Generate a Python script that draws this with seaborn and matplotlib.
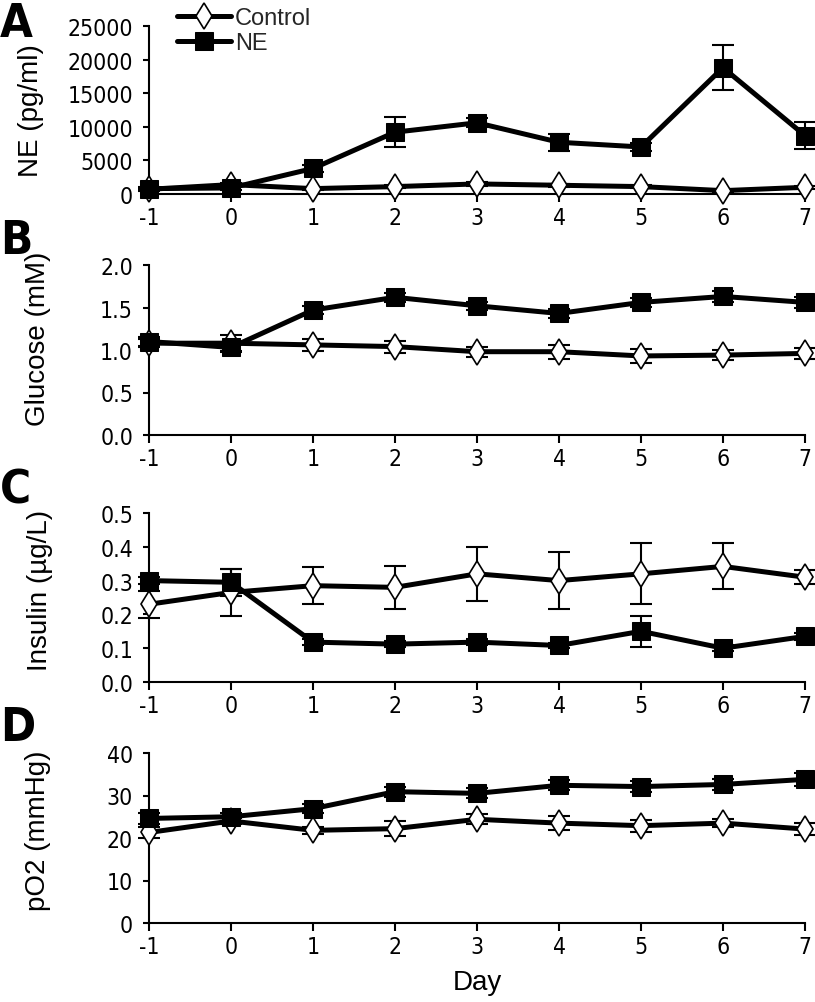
import matplotlib
matplotlib.use("Agg")
import matplotlib.pyplot as plt
import seaborn as sns
import numpy as np
import pandas as pd
from matplotlib import font_manager
from matplotlib.font_manager import FontProperties

days = [-1, 0, 1, 2, 3, 4, 5, 6, 7]

ne_ctrl = [700, 1400, 800, 1100, 1500, 1300, 1100, 500, 1000]
ne_ctrl_err = [150, 250, 150, 200, 250, 200, 200, 150, 200]
ne_ne = [800, 900, 3800, 9200, 10600, 7700, 7000, 18800, 8700]
ne_ne_err = [300, 300, 500, 2200, 700, 1300, 600, 3300, 2000]

glu_ctrl = [1.08, 1.08, 1.06, 1.04, 0.98, 0.98, 0.93, 0.94, 0.96]
glu_ctrl_err = [0.05, 0.10, 0.07, 0.07, 0.06, 0.08, 0.08, 0.06, 0.06]
glu_ne = [1.10, 1.03, 1.47, 1.62, 1.52, 1.43, 1.56, 1.63, 1.56]
glu_ne_err = [0.05, 0.04, 0.05, 0.05, 0.05, 0.05, 0.05, 0.06, 0.06]

ins_ctrl = [0.23, 0.265, 0.285, 0.28, 0.32, 0.30, 0.32, 0.342, 0.31]
ins_ctrl_err = [0.04, 0.07, 0.055, 0.063, 0.08, 0.085, 0.09, 0.068, 0.02]
ins_ne = [0.30, 0.295, 0.118, 0.112, 0.118, 0.108, 0.15, 0.10, 0.135]
ins_ne_err = [0.01, 0.04, 0.008, 0.008, 0.008, 0.008, 0.045, 0.008, 0.01]

po2_ctrl = [21.3, 24.0, 21.8, 22.2, 24.4, 23.5, 22.9, 23.5, 22.1]
po2_ctrl_err = [1.2, 0.8, 0.8, 1.8, 1.2, 1.6, 1.4, 1.0, 1.5]
po2_ne = [24.6, 25.0, 26.9, 30.9, 30.5, 32.4, 32.1, 32.6, 33.8]
po2_ne_err = [1.2, 1.0, 1.0, 1.2, 1.2, 1.2, 1.2, 1.2, 1.5]

ylabels = ["NE (pg/ml)", "Glucose (mM)", "Insulin (\u00b5g/L)", "pO2 (mmHg)"]
letters = ["A", "B", "C", "D"]
yticks_list = [
    [0, 5000, 10000, 15000, 20000, 25000],
    [0.0, 0.5, 1.0, 1.5, 2.0],
    [0.0, 0.1, 0.2, 0.3, 0.4, 0.5],
    [0, 10, 20, 30, 40],
]
ytick_fmt = ["{:.0f}", "{:.1f}", "{:.1f}", "{:.0f}"]

sns.set_theme(style="ticks")
plt.rcParams['font.family'] = ['Liberation Sans', 'DejaVu Sans']

files = [f.fname for f in font_manager.fontManager.ttflist]
def find(pats):
    for p in pats:
        for f in files:
            if p.lower() in f.lower():
                return f
    return None
reg_file = find(["LiberationSansNarrow-Regular", "DejaVuSansCondensed.ttf"])
bold_file = find(["LiberationSansNarrow-Bold.", "DejaVuSansCondensed-Bold.ttf"])
if reg_file:
    def tick_fp(size):
        return FontProperties(fname=reg_file, size=size)
    tsize = 18 if "Liberation" in reg_file else 16.5
else:
    def tick_fp(size):
        return FontProperties(family='Liberation Sans', size=size)
    tsize = 15
if bold_file:
    letter_fp = FontProperties(fname=bold_file, size=34)
else:
    letter_fp = FontProperties(family='Liberation Sans', weight='bold', size=30)

W, H = 815, 1003
fig = plt.figure(figsize=(W / 100, H / 100), dpi=100)

left_px, right_px = 149, 805
axes_px = [(27, 195), (266, 436), (514, 683), (754, 924)]
label_y = [0.5, 0.57, 0.55, 0.55]
label_x = [44, 51, 53, 51]
letter_top = [2, 219, 469, 706]

datasets = [
    (ne_ctrl, ne_ctrl_err, ne_ne, ne_ne_err),
    (glu_ctrl, glu_ctrl_err, glu_ne, glu_ne_err),
    (ins_ctrl, ins_ctrl_err, ins_ne, ins_ne_err),
    (po2_ctrl, po2_ctrl_err, po2_ne, po2_ne_err),
]

for i, (top, bot) in enumerate(axes_px):
    ax = fig.add_axes([left_px / W, 1 - bot / H, (right_px - left_px) / W, (bot - top) / H])
    c, ce, n, ne_ = datasets[i]
    df = pd.DataFrame({"Day": days * 2, "val": c + n,
                       "grp": ["Control"] * len(days) + ["NE"] * len(days)})
    ax.errorbar(days, c, yerr=ce, fmt='none', ecolor='black', elinewidth=1.5,
                capsize=8, capthick=1.5, zorder=2, clip_on=False)
    ax.errorbar(days, n, yerr=ne_, fmt='none', ecolor='black', elinewidth=1.5,
                capsize=8, capthick=1.5, zorder=2, clip_on=False)
    sns.lineplot(data=df[df.grp == "Control"], x="Day", y="val", ax=ax, color='black',
                 linewidth=3.6, marker='d', markersize=13, markerfacecolor='white',
                 markeredgecolor='black', markeredgewidth=1.2, clip_on=False,
                 label="Control", zorder=3, legend=False)
    sns.lineplot(data=df[df.grp == "NE"], x="Day", y="val", ax=ax, color='black',
                 linewidth=3.6, marker='s', markersize=13.5, markerfacecolor='black',
                 markeredgecolor='black', clip_on=False, label="NE", zorder=4, legend=False)
    yt = yticks_list[i]
    ax.set_xlim(-1, 7)
    ax.set_ylim(yt[0], yt[-1])
    ax.set_xticks(days)
    ax.set_xticklabels([str(d) for d in days], fontproperties=tick_fp(tsize))
    ax.set_yticks(yt)
    ax.set_yticklabels([ytick_fmt[i].format(v) for v in yt], fontproperties=tick_fp(tsize))
    ax.set_xlabel("")
    ax.set_ylabel(ylabels[i], fontsize=20, color='black')
    ax.yaxis.set_label_coords((label_x[i] - left_px) / (right_px - left_px), label_y[i])
    for s in ["top", "right"]:
        ax.spines[s].set_visible(False)
    for s in ["left", "bottom"]:
        ax.spines[s].set_linewidth(1.5)
        ax.spines[s].set_color('black')
    ax.tick_params(axis='x', direction='out', length=5.5, width=1.5, pad=3, colors='black')
    ax.tick_params(axis='y', direction='out', length=4.5, width=1.5, pad=7, colors='black')
    ax.grid(False)
    ax.set_facecolor('white')
    fig.text(0 / W, 1 - letter_top[i] / H, letters[i], fontproperties=letter_fp,
             ha='left', va='top', color='black')
    if i == 0:
        ax.legend(loc='upper left', bbox_to_anchor=(28 / (right_px - left_px), 1 + 19 / (bot - top)),
                  frameon=False, prop=FontProperties(family='Liberation Sans', size=17),
                  handlelength=2.3, handletextpad=0.15, labelspacing=0.12, borderaxespad=0,
                  borderpad=0)
    if i == 3:
        ax.set_xlabel("Day", fontproperties=FontProperties(family='Liberation Sans', size=20),
                      labelpad=8, color='black')

fig.savefig("out.png", dpi=100, facecolor='white')
